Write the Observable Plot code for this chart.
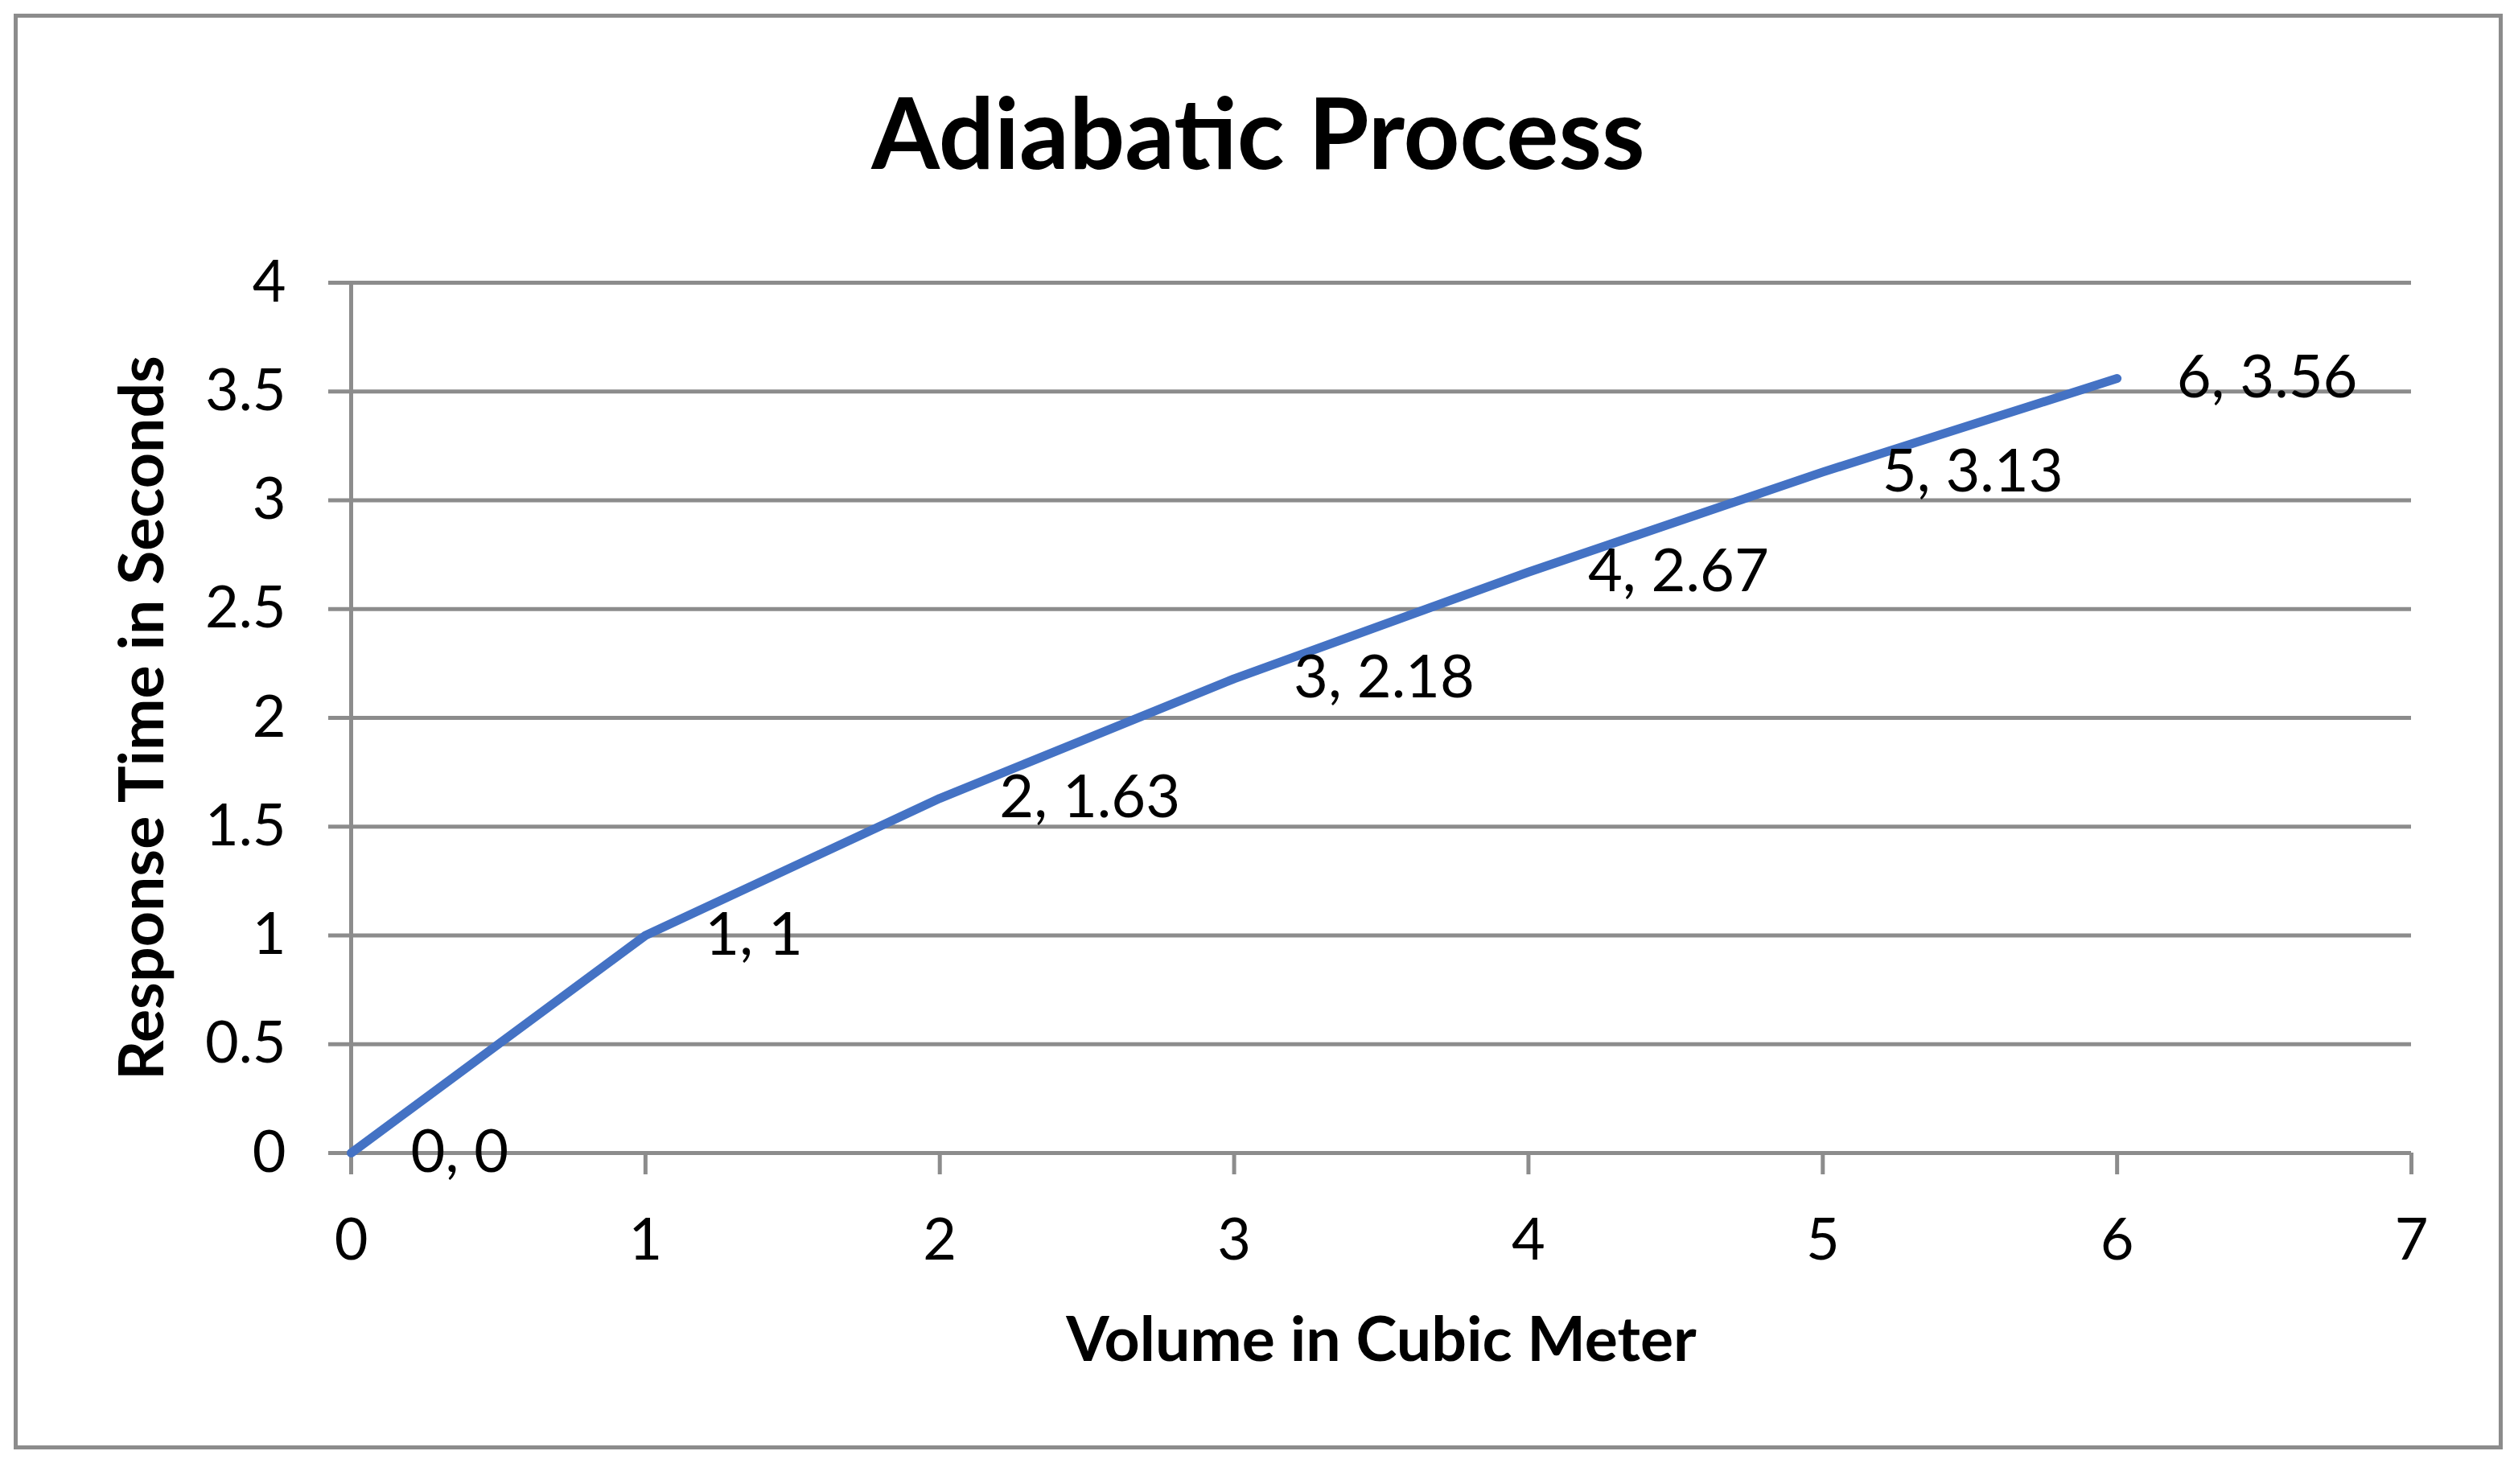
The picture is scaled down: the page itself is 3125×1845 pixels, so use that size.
<!DOCTYPE html>
<html>
<head>
<meta charset="utf-8">
<script src="https://cdn.jsdelivr.net/npm/d3@7"></script>
<script src="https://cdn.jsdelivr.net/npm/@observablehq/plot@0.6"></script>
<style>
  html, body { margin: 0; padding: 0; background: #ffffff; }
  #wrap { position: relative; width: 3125px; height: 1845px; overflow: hidden; }
  #border { position: absolute; left: 17px; top: 17px; width: 3094px; height: 1785px;
            box-sizing: border-box; border: 5px solid #8c8c8c; pointer-events: none; }
  #chart { position: absolute; left: 0; top: 0; }
</style>
</head>
<body>
<div id="wrap"><div id="chart"></div><div id="border"></div></div>
<script>
// Data
const volume = [0, 1, 2, 3, 4, 5, 6];
const responseTime = [0, 1, 1.63, 2.18, 2.67, 3.13, 3.56];
const xTicks = [0, 1, 2, 3, 4, 5, 6, 7];
const yTicks = [0, 0.5, 1, 1.5, 2, 2.5, 3, 3.5, 4];
const titleText = "Adiabatic Process";
const xLabel = "Volume in Cubic Meter";
const yLabel = "Response Time in Seconds";

const data = volume.map((v, i) => ({v, t: responseTime[i], label: `${v}, ${responseTime[i]}`}));
const gray = "#8c8c8c";

const chart = Plot.plot({
  width: 3125,
  height: 1845,
  marginLeft: 436,
  marginRight: 128,
  marginTop: 351,
  marginBottom: 412,
  style: {fontFamily: "Lato, sans-serif", fontSize: "72px", color: "black", background: "transparent"},
  x: {domain: [0, 7]},
  y: {domain: [0, 4]},
  marks: [
    Plot.ruleY(yTicks, {stroke: gray, strokeWidth: 5}),
    Plot.ruleX([0], {stroke: gray, strokeWidth: 5}),
    Plot.axisY(yTicks, {tickSize: 28, tickPadding: 53, stroke: gray, strokeWidth: 5, fill: "black",
      fontSize: 72, label: null, tickFormat: d => String(d)}),
    Plot.axisX(xTicks, {tickSize: 27, tickPadding: 54, stroke: gray, strokeWidth: 5, fill: "black",
      fontSize: 72, label: null, tickFormat: d => String(d)}),
    Plot.line(data, {x: "v", y: "t", stroke: "#4472C4", strokeWidth: 11}),
    Plot.text(data, {x: "v", y: "t", text: "label", textAnchor: "start", lineAnchor: "middle", dx: 74, fontSize: 74, fill: "black"}),
    Plot.text([titleText], {frameAnchor: "top", textAnchor: "middle", lineAnchor: "middle", dx: -153, dy: -181,
      fontSize: 122, fontWeight: "bold", fill: "black"}),
    Plot.text([xLabel], {frameAnchor: "bottom", textAnchor: "middle", lineAnchor: "middle", dy: 234,
      fontSize: 77, fontWeight: "bold", fill: "black"}),
    Plot.text([yLabel], {frameAnchor: "left", textAnchor: "middle", lineAnchor: "middle", dx: -258, rotate: -90,
      fontSize: 77, fontWeight: "bold", fill: "black"})
  ]
});
document.getElementById("chart").appendChild(chart);
</script>
</body>
</html>
